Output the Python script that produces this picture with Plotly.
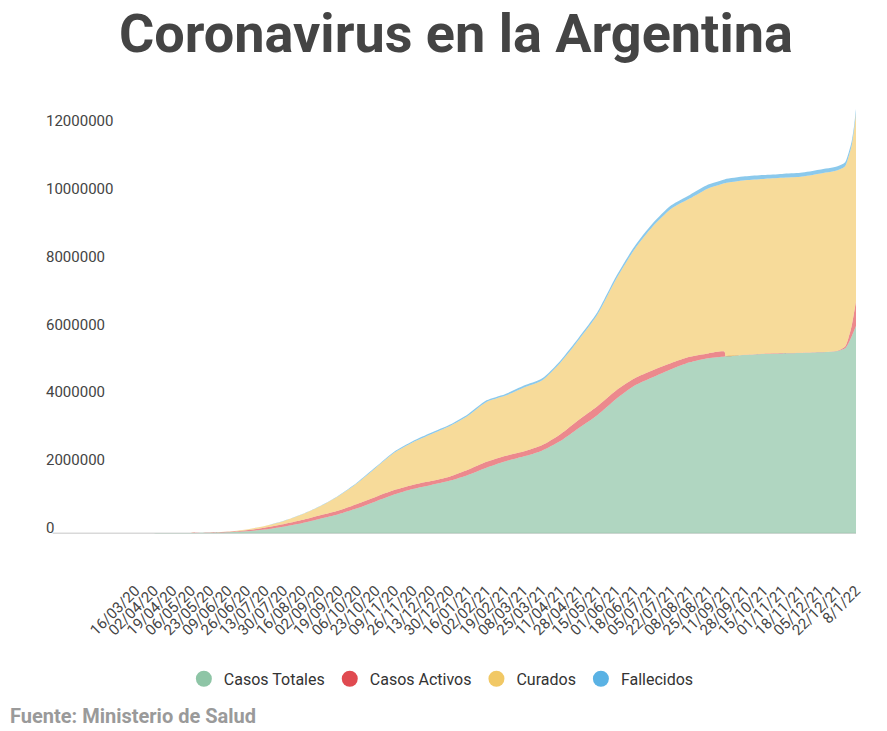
import plotly.graph_objects as go

# fechas de los datos
fechas = [
    "2020-03-16", "2020-04-02", "2020-04-19", "2020-05-06", "2020-05-23",
    "2020-06-09", "2020-06-26", "2020-07-13", "2020-07-30", "2020-08-16",
    "2020-09-02", "2020-09-19", "2020-10-06", "2020-10-23", "2020-11-09",
    "2020-11-26", "2020-12-13", "2020-12-30", "2021-01-16", "2021-02-02",
    "2021-02-19", "2021-03-08", "2021-03-25", "2021-04-11", "2021-04-28",
    "2021-05-15", "2021-06-01", "2021-06-18", "2021-07-05", "2021-07-22",
    "2021-08-08", "2021-08-25", "2021-09-09", "2021-09-10", "2021-09-28",
    "2021-10-15", "2021-11-01", "2021-11-18", "2021-12-05", "2021-12-22",
    "2021-12-29", "2022-01-01", "2022-01-04", "2022-01-06", "2022-01-08",
]

casos_totales = [
    100, 1000, 3000, 5000, 11000, 25000, 56000, 107000, 193000, 295000,
    428000, 560000, 733000, 937000, 1140000, 1303000, 1425000, 1547000, 1720000, 1934000,
    2117000, 2260000, 2433000, 2718000, 3105000, 3482000, 3950000, 4347000, 4601000, 4836000,
    5039000, 5161000, 5212000, 5222000, 5253000, 5283000, 5304000, 5314000, 5334000, 5375000,
    5456000, 5599000, 5803000, 5955000, 6108000,
]

casos_activos = [
    100, 1000, 2000, 3000, 7000, 15000, 31000, 56000, 71000, 92000,
    102000, 112000, 132000, 132000, 132000, 122000, 112000, 122000, 153000, 173000,
    163000, 153000, 163000, 204000, 244000, 265000, 255000, 214000, 204000, 183000,
    163000, 143000, 143000, 8000, 8000, 8000, 8000, 8000, 8000, 10000,
    51000, 153000, 305000, 509000, 733000,
]

curados = [
    0, 200, 1000, 1700, 4000, 8000, 23000, 51000, 92000, 163000,
    265000, 428000, 611000, 855000, 1099000, 1252000, 1384000, 1486000, 1593000, 1763000,
    1771000, 1879000, 1908000, 2108000, 2357000, 2696000, 3268000, 3799000, 4240000, 4550000,
    4668000, 4866000, 4968000, 5102000, 5151000, 5158000, 5169000, 5188000, 5258000, 5317000,
    5317000, 5327000, 5324000, 5375000, 5548000,
]

fallecidos = [
    0, 30, 100, 300, 400, 700, 1000, 2000, 4000, 6000,
    9000, 13000, 20000, 27000, 33000, 38000, 41000, 44000, 46000, 49000,
    51000, 55000, 57000, 60000, 66000, 73000, 81000, 90000, 97000, 102000,
    107000, 112000, 112000, 112000, 114000, 117000, 117000, 118000, 119000, 119000,
    119000, 119000, 120000, 120000, 121000,
]

# etiquetas del eje x
tick_fechas = [
    "2020-03-16", "2020-04-02", "2020-04-19", "2020-05-06", "2020-05-23",
    "2020-06-09", "2020-06-26", "2020-07-13", "2020-07-30", "2020-08-16",
    "2020-09-02", "2020-09-19", "2020-10-06", "2020-10-23", "2020-11-09",
    "2020-11-26", "2020-12-13", "2020-12-30", "2021-01-16", "2021-02-02",
    "2021-02-19", "2021-03-08", "2021-03-25", "2021-04-11", "2021-04-28",
    "2021-05-15", "2021-06-01", "2021-06-18", "2021-07-05", "2021-07-22",
    "2021-08-08", "2021-08-25", "2021-09-11", "2021-09-28", "2021-10-15",
    "2021-11-01", "2021-11-18", "2021-12-05", "2021-12-22", "2022-01-08",
]
tick_labels = [
    "16/03/20", "02/04/20", "19/04/20", "06/05/20", "23/05/20",
    "09/06/20", "26/06/20", "13/07/20", "30/07/20", "16/08/20",
    "02/09/20", "19/09/20", "06/10/20", "23/10/20", "09/11/20",
    "26/11/20", "13/12/20", "30/12/20", "16/01/21", "02/02/21",
    "19/02/21", "08/03/21", "25/03/21", "11/04/21", "28/04/21",
    "15/05/21", "01/06/21", "18/06/21", "05/07/21", "22/07/21",
    "08/08/21", "25/08/21", "11/09/21", "28/09/21", "15/10/21",
    "01/11/21", "18/11/21", "05/12/21", "22/12/21", "8/1/22",
]

series = [
    ("Casos Totales", casos_totales, "rgba(142,197,166,0.7)", "#8ec5a6"),
    ("Casos Activos", casos_activos, "rgba(226,74,80,0.65)", "#e04a50"),
    ("Curados", curados, "rgba(243,200,100,0.65)", "#f1c865"),
    ("Fallecidos", fallecidos, "rgba(90,178,228,0.7)", "#5ab2e4"),
]

fig = go.Figure()

for nombre, valores, relleno, color in series:
    fig.add_trace(go.Scatter(
        x=fechas, y=valores, name=nombre,
        stackgroup="uno", mode="lines",
        line=dict(width=0, color=relleno, shape="spline", smoothing=0.7),
        fillcolor=relleno, showlegend=False,
    ))

# entradas de leyenda con circulos
for nombre, valores, relleno, color in series:
    fig.add_trace(go.Scatter(
        x=[None], y=[None], name=nombre, mode="markers",
        marker=dict(size=16, color=color, symbol="circle"),
        showlegend=True,
    ))

fig.update_layout(
    width=887, height=731,
    margin=dict(l=43, r=31, t=106, b=191),
    paper_bgcolor="white", plot_bgcolor="white",
    font=dict(family="Roboto", color="#444"),
    title=dict(
        text="<b>Coronavirus en la Argentina</b>",
        font=dict(family="Roboto", size=54, color="#444"),
        x=0.514, xanchor="center", xref="container",
        y=0.955, yanchor="middle", yref="container",
    ),
    legend=dict(
        orientation="h", x=0.49, xanchor="center",
        y=-0.320, yanchor="middle", traceorder="normal",
        font=dict(family="Roboto", size=16, color="#333"),
        itemsizing="trace",
    ),
    showlegend=True,
)

fig.update_xaxes(
    type="date",
    range=["2019-12-22", "2022-01-08"],
    tickvals=tick_fechas, ticktext=tick_labels,
    tickangle=-45,
    tickfont=dict(family="Roboto", size=15, color="#444"),
    ticks="outside", ticklen=35, tickcolor="rgba(0,0,0,0)",
    showgrid=False, showline=False, zeroline=False,
)

fig.update_yaxes(
    range=[-200000, 12600000],
    tickvals=[0, 2000000, 4000000, 6000000, 8000000, 10000000, 12000000],
    tickformat="d",
    ticklabelposition="inside top", ticklabelshift=5,
    tickfont=dict(family="Roboto", size=15, color="#444"),
    showgrid=False, showline=False, zeroline=False,
)

# linea base (empieza despues de la etiqueta "0")
fig.add_shape(
    type="line", xref="paper", yref="y",
    x0=0.012, x1=1, y0=0, y1=0,
    line=dict(color="#d9d9d9", width=1.5),
    layer="below",
)

fig.add_annotation(
    text="<b>Fuente: Ministerio de Salud</b>",
    xref="paper", yref="paper",
    x=-0.043, y=-0.4055, xanchor="left", yanchor="middle",
    showarrow=False,
    font=dict(family="Roboto", size=20, color="#9a9a9a"),
)

# quitar el margen del body para que el grafico quede en la esquina
fig.write_html(
    "out.html",
    config={"displayModeBar": False},
    post_script="document.body.style.margin='0';",
)
